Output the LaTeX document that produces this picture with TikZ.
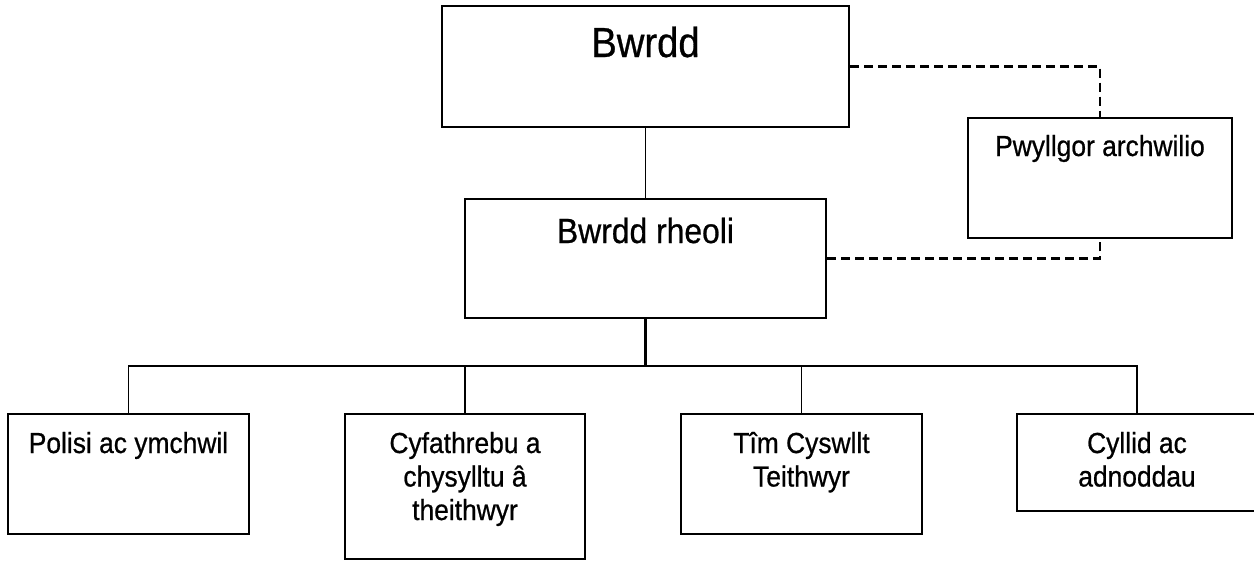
\documentclass[tikz,border=0pt]{standalone}
\usepackage{fontspec}
\setmainfont{Liberation Sans}[FakeStretch=0.91,FakeBold=0.7]
\usetikzlibrary{positioning}

\begin{document}
\begin{tikzpicture}[x=1pt,y=-1pt,
  box/.style={draw,line width=2.2pt,inner sep=0pt},
  txt/.style={anchor=base,align=center,inner sep=0pt,font=\fontsize{29}{33.5}\selectfont},
  link/.style={line width=1.9pt},
  audit/.style={line width=2.4pt,dash pattern=on 9pt off 5pt}]
  \useasboundingbox (0,0) rectangle (1254,562);
  % the boxes
  \node[box,minimum width=407pt,minimum height=121pt] (bwrdd)    at (645.5,66.5)  {};
  \node[box,minimum width=264pt,minimum height=120pt] (pwyllgor) at (1100,178)    {};
  \node[box,minimum width=361pt,minimum height=119pt] (rheoli)   at (645.5,258.5) {};
  \node[box,minimum width=241pt,minimum height=120pt] (polisi)   at (128.5,474)   {};
  \node[box,minimum width=240pt,minimum height=145pt] (cyfath)   at (465,486.5)   {};
  \node[box,minimum width=241pt,minimum height=120pt] (tim)      at (801.5,474)   {};
  \node[box,minimum width=240pt,minimum height=97pt]  (cyllid)   at (1137,462.5)  {};
  % the texts (base = last line)
  \node[txt,font=\fontsize{42}{50}\selectfont] (bwrdd-t)  at (645.5,57)  {Bwrdd};
  \node[txt,font=\fontsize{35}{42}\selectfont] (rheoli-t) at (645.5,243) {Bwrdd rheoli};
  \node[txt] (pwyllgor-t) at (1100,156)  {Pwyllgor archwilio};
  \node[txt] (polisi-t)   at (128.5,453) {Polisi ac ymchwil};
  \node[txt] (cyfath-t)   at (465,520)   {Cyfathrebu a\\chysylltu â\\theithwyr};
  \node[txt] (tim-t)      at (801.5,486.5) {Tîm Cyswllt\\Teithwyr};
  \node[txt] (cyllid-t)   at (1137,486.5)  {Cyllid ac\\adnoddau};
  % the lines
  \coordinate (bus) at (645.5,366);
  \draw[link] (bwrdd) -- (rheoli);
  \draw[link,line width=3pt] (rheoli) -- (bus);
  \draw[link] (polisi.north) |- (bus) -| (cyllid.north);
  \draw[link] (cyfath.north) -- (cyfath.north |- bus);
  \draw[link] (tim.north) -- (tim.north |- bus);
  \draw[audit] (bwrdd.east) -| (pwyllgor.north);
  \draw[audit] (rheoli.east) -| (pwyllgor.south);
\end{tikzpicture}
\end{document}
